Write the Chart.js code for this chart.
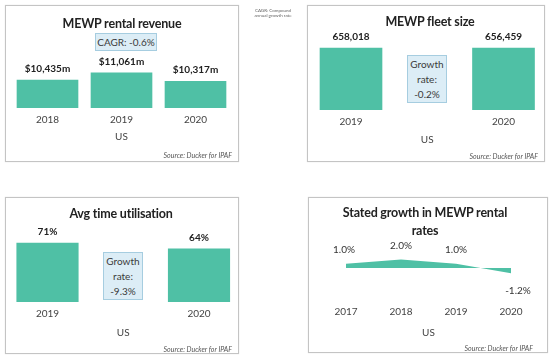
<!DOCTYPE html>
<html><head><meta charset="utf-8">
<script src="https://cdn.jsdelivr.net/npm/chart.js@4/dist/chart.umd.min.js"></script>
<style>
html,body{margin:0;padding:0;background:#fff;}
#wrap{position:relative;width:550px;height:357px;overflow:hidden;font-family:Lato,"Liberation Sans",sans-serif;color:#2b2b2b;}
.panel{position:absolute;border:1px solid #c4c4c4;box-sizing:border-box;box-shadow:0 0 1px #ddd;}
.cv{position:absolute;}
.t{position:absolute;white-space:nowrap;transform:translate(-50%,-50%);}
.title{font-weight:bold;font-size:12.5px;letter-spacing:-0.2px;color:#222;}
.src{position:absolute;font-style:italic;font-size:7px;color:#555;transform:translate(-100%,-50%);white-space:nowrap;}
.box{position:absolute;background:#dcedf6;border:1px solid #a6cde0;box-sizing:border-box;text-align:center;color:#3a3a3a;white-space:nowrap;}
</style></head>
<body><div id="wrap">
  <div class="panel" style="left:5px;top:5px;width:234px;height:157px"></div>
  <div class="panel" style="left:307px;top:5px;width:238px;height:157px"></div>
  <div class="panel" style="left:5px;top:197px;width:234px;height:157px"></div>
  <div class="panel" style="left:308px;top:197px;width:240px;height:156px"></div>

  <canvas class="cv" id="c1" width="234" height="157" style="left:5px;top:5px"></canvas>
  <canvas class="cv" id="c2" width="237" height="157" style="left:307px;top:5px"></canvas>
  <canvas class="cv" id="c3" width="234" height="157" style="left:5px;top:197px"></canvas>
  <canvas class="cv" id="c4" width="239" height="156" style="left:308px;top:197px"></canvas>

  <div class="t title" id="t1" style="left:122px;top:23px"></div>
  <div class="t title" id="t2" style="left:430px;top:21px"></div>
  <div class="t title" id="t3" style="left:121px;top:213px"></div>
  <div class="t title" id="t4" style="left:425px;top:222px;text-align:center;line-height:18px"></div>

  <div class="box" id="b1" style="left:95px;top:33px;width:62px;height:18px;font-size:10px;line-height:16px"></div>
  <div class="box" id="b2" style="left:407px;top:55px;width:40px;height:48px;font-size:10px;line-height:15px;padding-top:1px"></div>
  <div class="box" id="b3" style="left:103px;top:252px;width:40px;height:48px;font-size:10px;line-height:15px;padding-top:1px"></div>

  <div class="src" style="left:232px;top:155px">Source: Ducker for IPAF</div>
  <div class="src" style="left:538px;top:156px">Source: Ducker for IPAF</div>
  <div class="src" style="left:232px;top:349px">Source: Ducker for IPAF</div>
  <div class="src" style="left:533px;top:348px">Source: Ducker for IPAF</div>

  <div class="t" style="left:273px;top:13px;font-size:4.5px;color:#666;text-align:center;line-height:5px">CAGR: Compound<br>annual growth rate</div>
</div>
<script>
// ---- data ----
const revenueYears = ['2018', '2019', '2020'];
const revenueValues = [10435, 11061, 10317];          // $m
const fleetYears = ['2019', '2020'];
const fleetValues = [658018, 656459];
const utilYears = ['2019', '2020'];
const utilValues = [71, 64];                           // %
const rateYears = ['2017', '2018', '2019', '2020'];
const rateValues = [1.0, 2.0, 1.0, -1.2];              // %
const regionLabel = 'US';
const titles = ['MEWP rental revenue', 'MEWP fleet size', 'Avg time utilisation', 'Stated growth in MEWP rental<br>rates'];
const cagrText = 'CAGR: -0.6%';
const fleetGrowth = ['Growth', 'rate:', '-0.2%'];
const utilGrowth = ['Growth', 'rate:', '-9.3%'];

document.getElementById('t1').innerHTML = titles[0];
document.getElementById('t2').innerHTML = titles[1];
document.getElementById('t3').innerHTML = titles[2];
document.getElementById('t4').innerHTML = titles[3];
document.getElementById('b1').textContent = cagrText;
document.getElementById('b2').innerHTML = fleetGrowth.join('<br>');
document.getElementById('b3').innerHTML = utilGrowth.join('<br>');

Chart.defaults.font.family = 'Lato, "Liberation Sans", sans-serif';
Chart.defaults.color = '#3a3a3a';
const TEAL = '#4fc0a5';

const valueLabels = {
  id: 'valueLabels',
  afterDatasetsDraw(chart, args, opts) {
    const ctx = chart.ctx;
    const meta = chart.getDatasetMeta(0);
    const data = chart.data.datasets[0].data;
    ctx.save();
    ctx.font = (opts.weight || 'bold') + ' ' + (opts.size || 10) + 'px ' + Chart.defaults.font.family;
    ctx.fillStyle = opts.color || '#222';
    ctx.textAlign = 'center';
    ctx.textBaseline = 'middle';
    meta.data.forEach((el, i) => {
      const v = data[i];
      const txt = opts.format(v);
      const dy = v < 0 ? (opts.below || 16) : -(opts.above || 11.5);
      const dx = (opts.dx && opts.dx[i]) || 0;
      ctx.fillText(txt, el.x + dx, el.y + dy);
    });
    ctx.restore();
  }
};

function xAxis(offset, tickPad, titlePad) {
  return {
    offset: offset,
    grid: { display: false, drawTicks: false },
    border: { display: false },
    ticks: { padding: tickPad, font: { size: 10 }, color: '#444', maxRotation: 0, autoSkip: false },
    title: { display: true, text: regionLabel, font: { size: 10 }, color: '#444', padding: { top: titlePad, bottom: 0 } }
  };
}

function barChart(id, labels, values, ymin, ymax, pad, tickPad, titlePad, offset, thickness, fmt) {
  return new Chart(document.getElementById(id), {
    type: 'bar',
    data: { labels: labels, datasets: [{ data: values, base: ymin, backgroundColor: TEAL, barThickness: thickness,
      clip: { left: false, right: false, top: false, bottom: 0 } }] },
    options: {
      responsive: false, animation: false,
      layout: { padding: pad },
      plugins: { legend: { display: false }, tooltip: { enabled: false }, valueLabels: { format: fmt, above: 11.5, size: 10 } },
      scales: {
        x: xAxis(offset, tickPad, titlePad),
        y: { display: false, min: ymin, max: ymax }
      }
    },
    plugins: [valueLabels]
  });
}

barChart('c1', revenueYears, revenueValues, 8000, 12000,
  { left: 5.5, right: 6.5, top: 57, bottom: 19 }, 5.5, 0, true, 61,
  v => '$' + v.toLocaleString('en-US') + 'm');

barChart('c2', fleetYears, fleetValues, 0, 800000,
  { left: 44, right: 40.5, top: 29.6, bottom: 16 }, 6, 0, false, 62,
  v => v.toLocaleString('en-US'));

barChart('c3', utilYears, utilValues, 0, 100,
  { left: 42.5, right: 40, top: 21.9, bottom: 15 }, 6, 1, false, 61.5,
  v => v + '%');

new Chart(document.getElementById('c4'), {
  type: 'line',
  data: { labels: rateYears, datasets: [{ data: rateValues, backgroundColor: TEAL, borderWidth: 0, borderColor: TEAL, fill: 'origin', pointRadius: 0, tension: 0, clip: false }] },
  options: {
    responsive: false, animation: false,
    layout: { padding: { left: 38, right: 36, top: 53.8, bottom: 14 } },
    plugins: { legend: { display: false }, tooltip: { enabled: false },
      valueLabels: { format: v => v.toFixed(1) + '%', above: 14, below: 18, size: 10, weight: 'normal', color: '#333', dx: [-2, 0, 0, 7] } },
    scales: {
      x: xAxis(false, 3.6, 5.4),
      y: { display: false, min: -8, max: 4 }
    }
  },
  plugins: [valueLabels]
});
</script>
</body></html>
